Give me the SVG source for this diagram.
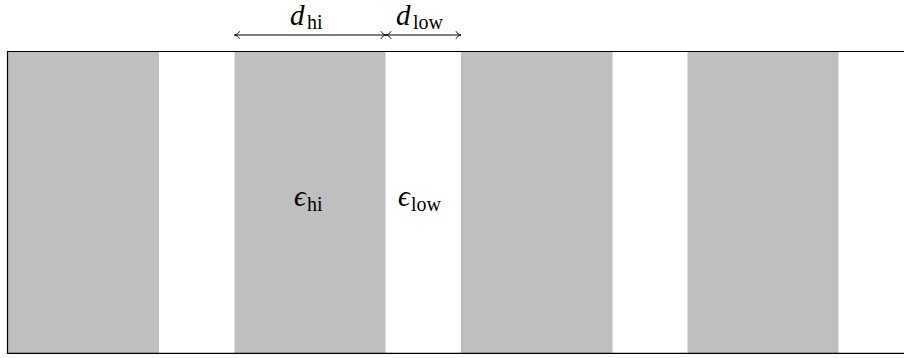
<svg xmlns="http://www.w3.org/2000/svg" width="904" height="358" viewBox="0 0 904 358">
<style>
.hi{fill:#bfbfbf;stroke:none}
.frame{fill:none;stroke:#000;stroke-width:1.2}
.dim{fill:none;stroke:#000;stroke-width:1}
.lbl{font-family:"Liberation Serif",serif;fill:#000}
.m{font-style:italic;font-size:29px}
.s{font-size:20px}
</style>
<defs>
<marker id="ah" viewBox="-6 -5 8 10" refX="0" refY="0" markerWidth="8" markerHeight="10" markerUnits="userSpaceOnUse" orient="auto">
<path d="M-5,-3.8 C-4.5,-1.8 -1.8,-0.4 0,0 C-1.8,0.4 -4.5,1.8 -5,3.8" fill="none" stroke="#000" stroke-width="0.9"/>
</marker>
</defs>
<g id="strips">
<rect class="hi" x="7.5" y="51.5" width="151.5" height="302"/>
<rect class="hi" x="234.5" y="51.5" width="151" height="302"/>
<rect class="hi" x="461" y="51.5" width="151.5" height="302"/>
<rect class="hi" x="687.5" y="51.5" width="151" height="302"/>
</g>
<g id="frame">
<path class="frame" d="M905,51.5 H7.5 V353.3 H905"/>
</g>
<g id="connectors">
<line class="dim" x1="386" y1="35" x2="234.5" y2="35" marker-end="url(#ah)" marker-start="url(#ah)"/>
<line class="dim" x1="386" y1="35" x2="461" y2="35" marker-end="url(#ah)" marker-start="url(#ah)"/>
</g>
<g id="label-dhi">
<text class="lbl" y="25"><tspan class="m" x="290">d</tspan><tspan class="s" x="307" y="29">hi</tspan></text>
</g>
<g id="label-dlow">
<text class="lbl" y="25"><tspan class="m" x="396">d</tspan><tspan class="s" x="413" y="29">low</tspan></text>
</g>
<g id="label-ehi">
<text class="lbl" y="206"><tspan class="m" x="294">ϵ</tspan><tspan class="s" x="307" y="211">hi</tspan></text>
</g>
<g id="label-elow">
<text class="lbl" y="206"><tspan class="m" x="398">ϵ</tspan><tspan class="s" x="411" y="211">low</tspan></text>
</g>
</svg>
